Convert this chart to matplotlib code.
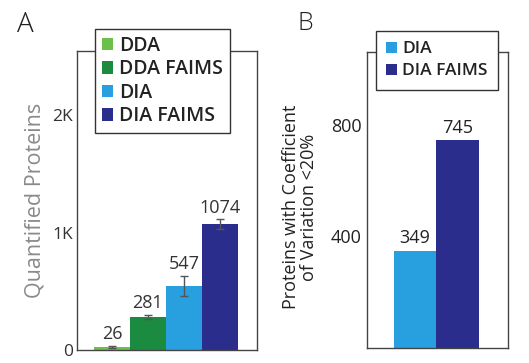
import matplotlib
matplotlib.use("Agg")
import matplotlib.pyplot as plt
from matplotlib.patches import Patch

plt.rcParams['font.family'] = ['Open Sans', 'DejaVu Sans']

# panel A data
methods_a = ["DDA", "DDA FAIMS", "DIA", "DIA FAIMS"]
quantified = [26, 281, 547, 1074]
quantified_err = [10, 20, 85, 40]
colors_a = ["#6cc04a", "#1a8b3f", "#289fdf", "#2a2d8c"]

# panel B data
methods_b = ["DIA", "DIA FAIMS"]
cv_below_20 = [349, 745]
colors_b = ["#289fdf", "#2a2d8c"]

fig = plt.figure(figsize=(5.29, 3.63), dpi=100)

# ---- panel A
ax1 = fig.add_axes([0.1456, 0.036, 0.340, 0.824])
xa = list(range(len(methods_a)))
ax1.bar(xa, quantified, width=1.0, color=colors_a, yerr=quantified_err,
        error_kw=dict(ecolor="#555555", elinewidth=1, capsize=3, capthick=1))
for x, v, e in zip(xa, quantified, quantified_err):
    ax1.text(x, v + e + 20, str(v), ha="center", va="bottom", fontsize=13, color="#333333")
ax1.set_xlim(-0.97, 4.03)
ax1.set_ylim(0, 2550)
ax1.set_yticks([0, 1000, 2000])
ax1.set_yticklabels(["0", "1K", "2K"])
ax1.set_xticks([])
ax1.tick_params(axis="y", length=0, labelsize=12.5, labelcolor="#333333", pad=3)
ax1.set_ylabel("Quantified Proteins", fontsize=15.5, color="#8a8a8a")
ax1.yaxis.set_label_coords(-0.178, 0.5)
for s in ax1.spines.values():
    s.set_color("#444444")
    s.set_linewidth(1)
handles_a = [Patch(facecolor=c, edgecolor="none") for c in colors_a]
leg1 = fig.legend(handles_a, methods_a, loc="upper left", bbox_to_anchor=(95 / 529, 1 - 29 / 363),
                  fontsize=14, frameon=True, fancybox=False, edgecolor="#333333",
                  handlelength=0.6, handleheight=0.6, handletextpad=0.3, labelspacing=0.18,
                  borderpad=0.35, borderaxespad=0)
leg1.get_frame().set_linewidth(1)
leg1.get_frame().set_alpha(None)
for t in leg1.get_texts():
    t.set_color("#222222")
    t.set_fontweight("semibold")
fig.text(25 / 529, 1 - 25 / 363, "A", fontsize=20, color="#222222", va="center", ha="center",
         fontweight="light")

# ---- panel B
ax2 = fig.add_axes([0.694, 0.041, 0.2665, 0.815])
xb = list(range(len(methods_b)))
ax2.bar(xb, cv_below_20, width=1.0, color=colors_b)
for x, v in zip(xb, cv_below_20):
    ax2.text(x, v + 12, str(v), ha="center", va="bottom", fontsize=13, color="#222222")
ax2.set_xlim(-1.13, 2.19)
ax2.set_ylim(0, 1060)
ax2.set_yticks([400, 800])
ax2.set_xticks([])
ax2.tick_params(axis="y", length=0, labelsize=13, labelcolor="#222222", pad=4)
ax2.set_ylabel("Proteins with Coefficient\nof Variation <20%", fontsize=13, color="#222222",
               linespacing=1.0)
ax2.yaxis.set_label_coords(-0.352, 0.476)
for s in ax2.spines.values():
    s.set_color("#444444")
    s.set_linewidth(1)
handles_b = [Patch(facecolor=c, edgecolor="none") for c in colors_b]
leg2 = fig.legend(handles_b, methods_b, loc="upper left", bbox_to_anchor=(376 / 529, 1 - 31 / 363),
                  fontsize=12.5, frameon=True, fancybox=False, edgecolor="#333333",
                  handlelength=0.6, handleheight=0.6, handletextpad=0.3, labelspacing=0.35,
                  borderpad=0.6, borderaxespad=0)
leg2.get_frame().set_linewidth(1)
leg2.get_frame().set_alpha(None)
for t in leg2.get_texts():
    t.set_color("#222222")
    t.set_fontweight("semibold")
fig.text(305 / 529, 1 - 24 / 363, "B", fontsize=18, color="#222222", va="center", ha="center",
         fontweight="light")

fig.savefig("out.png", dpi=100)
